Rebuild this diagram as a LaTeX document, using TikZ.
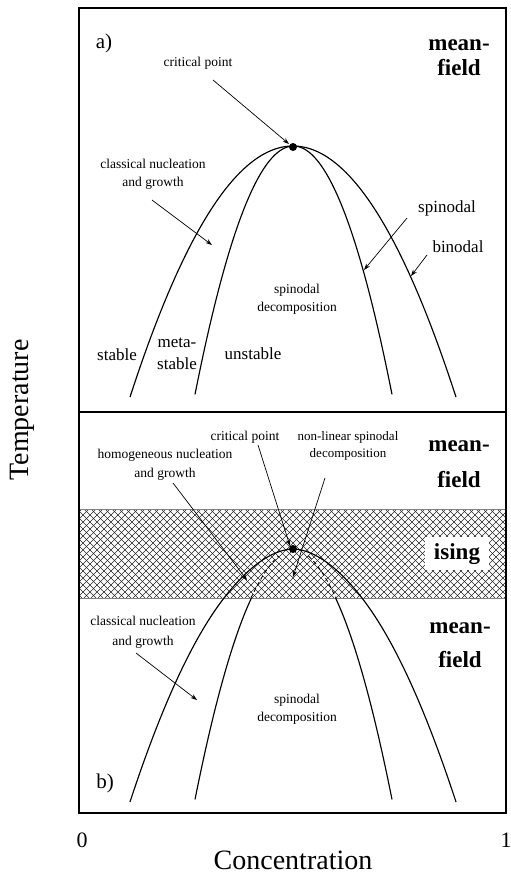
\documentclass[tikz,border=0pt]{standalone}
\usepackage{fontspec}
\setmainfont{Liberation Serif}
\usetikzlibrary{arrows.meta}
\begin{document}
\begin{tikzpicture}[x=1pt,y=-1pt,
  lab/.style={font=\fontsize{13.5}{18}\selectfont, align=center, inner sep=0pt},
  mid/.style={font=\fontsize{17}{22}\selectfont, align=center, inner sep=0pt},
  big/.style={font=\fontsize{23}{25}\selectfont\bfseries, inner sep=0pt},
  axl/.style={font=\fontsize{28}{30}\selectfont, inner sep=0pt},
  curve/.style={line width=1.15pt},
  dcurve/.style={line width=0.9pt, dash pattern=on 4pt off 3pt},
  arr/.style={line width=0.7pt, -{Stealth[length=6.5pt,width=4.5pt]}},
  hatch/.style={line width=0.5pt, black!85}
]
\useasboundingbox (0,0) rectangle (511,876);

% hatched Ising band
\begin{scope}
\clip (79,509) rectangle (506,598);
\foreach \i in {-98,-91,...,520} {
  \draw[hatch] (\i,509) -- ++(89,89);
  \draw[hatch] (\i,598) -- ++(89,-89);
}
\end{scope}
\draw[gray, line width=0.6pt] (79,509) -- (506,509) (79,598) -- (506,598);
\fill[white] (425,537) rectangle (489,570);

% frame
\draw[line width=1.4pt] (79,8) rectangle (506,813);
\draw[line width=1.2pt] (79,412) -- (506,412);

% ---------- panel a ----------
\draw[curve] plot[domain=-163:163, samples=90] ({293+\x},{146+0.945*(\x/10)*(\x/10)});
\draw[curve] plot[domain=-98.5:98.5, samples=70] ({293.5+\x},{146+2.56*(\x/10)*(\x/10)});
\node[circle, fill, inner sep=0pt, minimum size=8pt] (cdA) at (293,147) {};

\node[lab] (cpA) at (198,63) {critical point};
\coordinate (cpAs) at (213,80);
\coordinate (cpAe) at (289,144);
\draw[arr] (cpAs) -- (cpAe);

\node[lab] (cngA) at (153,174) {classical nucleation\\and growth};
\coordinate (cngAs) at (152,200);
\coordinate (cngAe) at (212,245);
\draw[arr] (cngAs) -- (cngAe);

\node[mid] (spinA) at (447,208) {spinodal};
\coordinate (spinAs) at (407,218);
\coordinate (spinAe) at (364,270);
\draw[arr] (spinAs) -- (spinAe);

\node[mid] (binA) at (458,247) {binodal};
\coordinate (binAs) at (427,255);
\coordinate (binAe) at (411,276);
\draw[arr] (binAs) -- (binAe);

\node[lab] (sdA) at (297,299) {spinodal\\decomposition};
\node[mid] (stab) at (117,355) {stable};
\node[mid] (meta) at (177,354) {meta-\\stable};
\node[mid] (unst) at (253,354) {unstable};
\node[font=\fontsize{21}{23}\selectfont, inner sep=0pt] (pa) at (104,43) {a)};
\node[big] (mfA1) at (459,45) {mean-};
\node[big] (mfA2) at (459,68) {field};

% ---------- panel b ----------
\draw[curve] plot[domain=-163:-69, samples=30] ({293+\x},{553.5+0.935*(\x/10)*(\x/10)})
  -- plot[domain=-69:69, samples=50] ({293+\x},{549+49*(abs(\x)/69+0.0001)^1.82})
  -- plot[domain=69:163, samples=30] ({293+\x},{553.5+0.935*(\x/10)*(\x/10)});
\draw[curve] plot[domain=-98.5:-42.1, samples=30] ({293.5+\x},{553+2.54*(\x/10)*(\x/10)});
\draw[curve] plot[domain=42.1:98.5, samples=30] ({293.5+\x},{553+2.54*(\x/10)*(\x/10)});
\draw[dcurve] plot[domain=-42.5:-15, samples=20] ({293.5+\x},{549+49*(abs(\x)/42.5)^1.85});
\draw[dcurve] plot[domain=15:42.5, samples=20] ({293.5+\x},{549+49*(abs(\x)/42.5)^1.85});
\node[circle, fill, inner sep=0pt, minimum size=8pt] (cdB) at (293,549) {};

\node[lab] (cpB) at (245,437) {critical point};
\coordinate (cpBs) at (258,445);
\coordinate (cpBe) at (290,546);
\draw[arr] (cpBs) -- (cpBe);

\node[lab, font=\fontsize{13}{17}\selectfont] (nl) at (348,446) {non-linear spinodal\\decomposition};
\coordinate (nls) at (325,478);
\coordinate (nle) at (293,577);
\draw[arr] (nls) -- (nle);

\node[lab, font=\fontsize{13.5}{19}\selectfont] (hom) at (165,465) {homogeneous nucleation\\and growth};
\coordinate (homs) at (173,483);
\coordinate (home) at (247,580);
\draw[arr] (homs) -- (home);

\node[big] (mfB1) at (459,446) {mean-};
\node[big] (mfB2) at (459,480) {field};
\node[big] (ising) at (457,554) {ising};
\node[big] (mfC1) at (460,628) {mean-};
\node[big] (mfC2) at (460,660) {field};

\node[lab, font=\fontsize{13.5}{20}\selectfont] (cngB) at (143,632) {classical nucleation\\and growth};
\coordinate (cngBs) at (136,653);
\coordinate (cngBe) at (197,700);
\draw[arr] (cngBs) -- (cngBe);

\node[lab] (sdB) at (297,709) {spinodal\\decomposition};
\node[font=\fontsize{21}{23}\selectfont, inner sep=0pt] (pb) at (105,783) {b)};

% axes labels
\node[font=\fontsize{22}{24}\selectfont, inner sep=0pt] (zero) at (82,840) {0};
\node[font=\fontsize{22}{24}\selectfont, inner sep=0pt] (one) at (506,840) {1};
\node[axl] (conc) at (293,860) {Concentration};
\node[axl, rotate=90] (temp) at (22,410) {Temperature};
\end{tikzpicture}
\end{document}
